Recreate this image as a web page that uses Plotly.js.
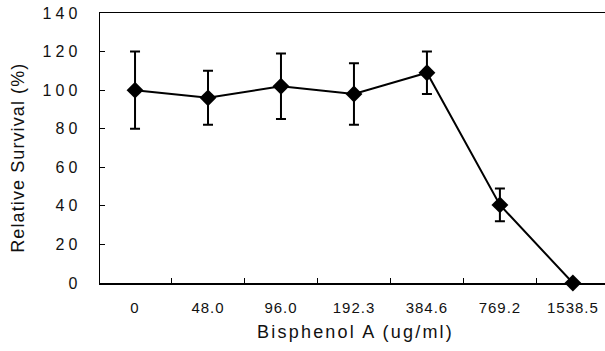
<!DOCTYPE html>
<html><head><meta charset="utf-8">
<script src="https://cdn.plot.ly/plotly-3.0.1.min.js"></script>
<style>
html,body{margin:0;padding:0;background:#fff}
.xtick text{letter-spacing:1px}
.ytick text{letter-spacing:4px}
</style>
</head><body><div id="chart" style="width:605px;height:351px"></div>
<script>
const categories = ["0", "48.0", "96.0", "192.3", "384.6", "769.2", "1538.5"];
const survival = [100, 96, 102, 98, 109, 40.5, 0];
const errors = [20, 14, 17, 16, 11, 8.5, 0];
const yTicks = [0, 20, 40, 60, 80, 100, 120, 140];
const xTitle = "Bisphenol A (ug/ml)";
const yTitle = "Relative Survival (%)";

const trace = {
  x: categories, y: survival, type: "scatter", mode: "lines+markers",
  line: {color: "#000", width: 2},
  marker: {symbol: "diamond", size: 13, color: "#000"},
  error_y: {type: "data", array: errors, visible: true, color: "#000", thickness: 2, width: 5},
  cliponaxis: false
};
const fam = "Liberation Sans, Arial, sans-serif";
const layout = {
  width: 605, height: 351,
  margin: {l: 100, r: 0, t: 13, b: 68},
  paper_bgcolor: "#fff", plot_bgcolor: "#fff",
  showlegend: false, font: {family: fam, size: 15, color: "#111"},
  xaxis: {
    type: "category", range: [-0.48, 6.44],
    showline: true, linecolor: "#000", linewidth: 1.5, mirror: true,
    ticks: "inside", tickson: "boundaries", ticklen: 5, tickcolor: "#000",
    showgrid: false, zeroline: false,
    tickfont: {family: fam, size: 15, color: "#111"},
    ticklabelstandoff: 10
  },
  yaxis: {
    range: [0, 140], tickvals: yTicks,
    showline: true, linecolor: "#000", linewidth: 1.5, mirror: false,
    ticks: "inside", ticklen: 5, tickcolor: "#000",
    showgrid: false, zeroline: false,
    tickfont: {family: fam, size: 16, color: "#111"},
    ticklabelstandoff: 14
  },
  annotations: [
    {text: xTitle, xref: "paper", yref: "paper", x: 0.505, y: -0.181,
     xanchor: "center", yanchor: "middle", showarrow: false,
     font: {family: fam, size: 18, color: "#111"}},
    {text: yTitle, xref: "paper", yref: "paper", x: -0.162, y: 0.463,
     xanchor: "center", yanchor: "middle", textangle: -90, showarrow: false,
     font: {family: fam, size: 18, color: "#111"}}
  ]
};
Plotly.newPlot("chart", [trace], layout, {staticPlot: true, displayModeBar: false}).then(() => {
  document.querySelectorAll(".annotation-text").forEach((t, i) => {
    t.style.letterSpacing = i === 0 ? "2.2px" : "1.1px";
  });
});
</script></body></html>
